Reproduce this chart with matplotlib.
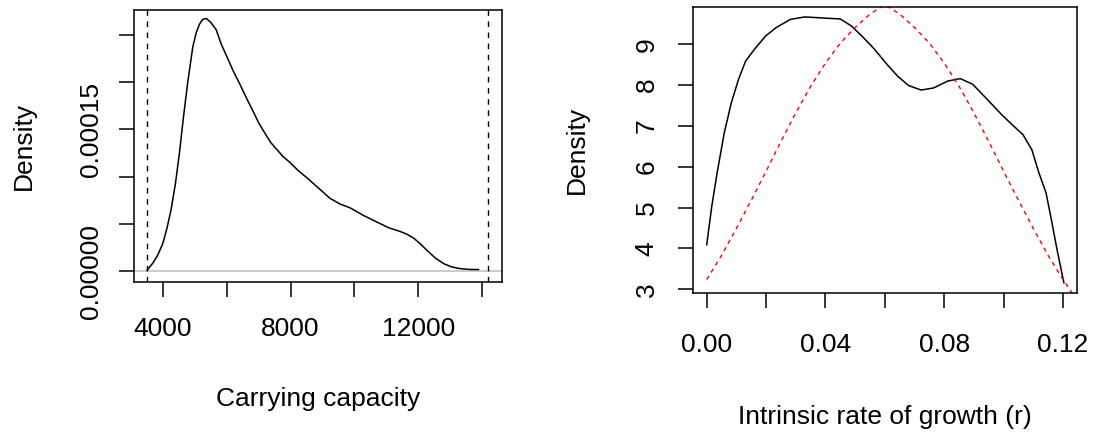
"""
Densidades posteriores de K (capacidad de carga) y r (tasa intrínseca de crecimiento),
con los límites de la prior de K y la prior de r superpuesta.
"""

import matplotlib
matplotlib.use("Agg")
import matplotlib.pyplot as plt

plt.rcParams["font.family"] = ["Liberation Sans", "DejaVu Sans"]
plt.rcParams["font.size"] = 19

# --- capacidad de carga K -------------------------------------------------
k_x = [3510, 3700, 3843, 4000, 4130, 4262, 4400, 4524, 4650, 4785, 4942, 5050,
       5152, 5250, 5361, 5500, 5675, 5830, 5990, 6200, 6408, 6620, 6827, 7000,
       7194, 7380, 7560, 7770, 7979, 8250, 8503, 8870, 9236, 9550, 9864, 10280,
       10702, 11070, 11435, 11650, 11853, 12060, 12272, 12530, 12796, 13050,
       13319, 13600, 13880]
k_dens = [0.10, 0.9, 1.7, 2.9, 4.5, 6.5, 9.3, 12.5, 16.3, 20.0, 23.7, 25.2,
          26.1, 26.6, 26.7, 26.3, 25.5, 24.0, 22.8, 21.2, 19.8, 18.3, 16.9, 15.7,
          14.6, 13.6, 12.9, 12.1, 11.5, 10.6, 9.9, 8.8, 7.7, 7.1, 6.7, 5.9,
          5.2, 4.6, 4.2, 3.9, 3.5, 2.9, 2.2, 1.4, 0.8, 0.45,
          0.28, 0.2, 0.18]  # x 1e-5
k_bounds = [3518, 14190]
k_yticks = [0, 5e-5, 1e-4, 1.5e-4, 2e-4, 2.5e-4]
k_ylabels = ["0.00000", "", "", "0.00015", "", ""]
k_xticks = [4000, 6000, 8000, 10000, 12000, 14000]
k_xlabels = ["4000", "", "8000", "", "12000", ""]

# --- tasa intrínseca r ----------------------------------------------------
r_x = [0.0, 0.0017, 0.0035, 0.0059, 0.0083, 0.0107, 0.0131, 0.0161, 0.0198,
       0.0234, 0.0282, 0.033, 0.0378, 0.045, 0.0487, 0.0523, 0.0565, 0.0607,
       0.0643, 0.068, 0.0722, 0.0764, 0.0812, 0.0854, 0.0896, 0.0945, 0.0993,
       0.1029, 0.1065, 0.1095, 0.1119, 0.1143, 0.1161, 0.118, 0.1203]
r_dens = [4.09, 5.03, 5.85, 6.83, 7.57, 8.14, 8.59, 8.88, 9.20,
          9.41, 9.61, 9.67, 9.65, 9.62, 9.45, 9.20, 8.88, 8.51,
          8.22, 7.99, 7.88, 7.93, 8.10, 8.16, 8.02, 7.65, 7.28,
          7.03, 6.79, 6.42, 5.85, 5.36, 4.70, 3.97, 3.16]

prior_x = [0.0, 0.005, 0.01, 0.015, 0.02, 0.025, 0.03, 0.035, 0.04, 0.045,
           0.05, 0.055, 0.06, 0.065, 0.07, 0.075, 0.08, 0.085, 0.09, 0.095,
           0.10, 0.105, 0.11, 0.115, 0.12, 0.125]
prior_dens = [3.24, 3.83, 4.49, 5.18, 5.89, 6.62, 7.32, 7.97, 8.54, 9.03,
              9.41, 9.74, 9.97, 9.74, 9.41, 9.03, 8.54, 7.97, 7.32, 6.62,
              5.89, 5.18, 4.49, 3.83, 3.24, 2.70]
r_yticks = [3, 4, 5, 6, 7, 8, 9]
r_xticks = [0.0, 0.02, 0.04, 0.06, 0.08, 0.10, 0.12]
r_xlabels = ["0.00", "", "0.04", "", "0.08", "", "0.12"]

W, H = 1101, 433
fig = plt.figure(figsize=(W / 100, H / 100), dpi=100)


def axes_px(left, top, right, bottom):
    return fig.add_axes([left / W, 1 - bottom / H, (right - left) / W, (bottom - top) / H])


def r_style(ax, xpad=15, ypad=12):
    for s in ax.spines.values():
        s.set_linewidth(1.1)
    ax.tick_params(length=10.5, width=1.1)
    ax.tick_params(axis="x", pad=xpad)
    ax.tick_params(axis="y", pad=ypad)
    for lab in ax.get_yticklabels():
        lab.set_rotation(90)
        lab.set_va("center")


# panel izquierdo
ax1 = axes_px(134, 10, 502, 282)
ax1.axhline(0, color="#bebebe", lw=1.1)
ax1.plot(k_x, [v * 1e-5 for v in k_dens], color="black", lw=1.1)
for b in k_bounds:
    ax1.axvline(b, color="black", lw=1.0, dashes=(4, 4))
ax1.set_xlim(3102, 14616)
ax1.set_ylim(-1.13e-5, 2.759e-4)
ax1.set_xticks(k_xticks, k_xlabels)
ax1.set_yticks(k_yticks, k_ylabels)
ax1.set_xlabel("Carrying capacity", labelpad=33)
ax1.set_ylabel("Density", labelpad=31)
r_style(ax1)

# panel derecho
ax2 = axes_px(692.7, 7.3, 1077.3, 293.3)
ax2.plot(r_x, r_dens, color="black", lw=1.1)
ax2.plot(prior_x, prior_dens, color="red", lw=1.0, dashes=(3, 3))
ax2.set_xlim(-0.00472, 0.12482)
ax2.set_ylim(2.902, 9.906)
ax2.set_xticks(r_xticks, r_xlabels)
ax2.set_yticks(r_yticks, [str(v) for v in r_yticks])
ax2.set_xlabel("Intrinsic rate of growth (r)", labelpad=35)
ax2.set_ylabel("Density", labelpad=33)
r_style(ax2, xpad=18, ypad=14)

fig.savefig("out.png", dpi=100)
